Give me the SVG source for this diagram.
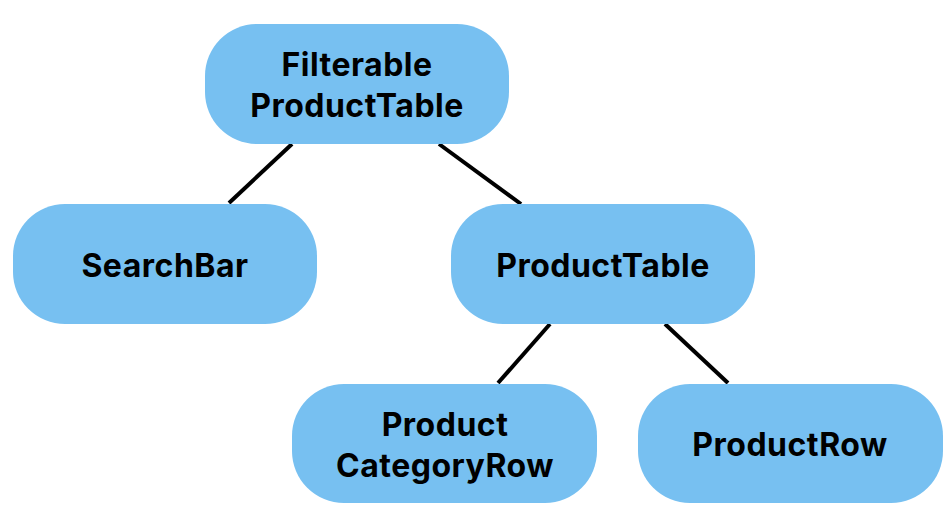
<svg xmlns="http://www.w3.org/2000/svg" width="952" height="532" viewBox="0 0 952 532">
<style>
.box{fill:#77C0F1;}
.lbl{font-family:Inter,"Liberation Sans",sans-serif;font-weight:700;font-size:32px;letter-spacing:0.5px;fill:#000;text-anchor:middle;}
.edge{stroke:#000;stroke-width:4;fill:none;}
</style>
<rect width="952" height="532" fill="#fff"/>
<g id="connectors">
<line class="edge" x1="292" y1="144" x2="229" y2="203"/>
<line class="edge" x1="439" y1="144" x2="521" y2="204"/>
<line class="edge" x1="550" y1="324" x2="498" y2="383"/>
<line class="edge" x1="665" y1="324" x2="728" y2="383"/>
</g>
<g id="FilterableProductTable">
<rect class="box" x="205" y="24" width="304" height="120" rx="52"/>
<text class="lbl" x="357" y="76">Filterable</text>
<text class="lbl" x="357" y="117">ProductTable</text>
</g>
<g id="SearchBar">
<rect class="box" x="13" y="204" width="304" height="120" rx="52"/>
<text class="lbl" x="165" y="277">SearchBar</text>
</g>
<g id="ProductTable">
<rect class="box" x="451" y="204" width="304" height="120" rx="52"/>
<text class="lbl" x="603" y="277">ProductTable</text>
</g>
<g id="ProductCategoryRow">
<rect class="box" x="292" y="384" width="305" height="119" rx="52"/>
<text class="lbl" x="445" y="436">Product</text>
<text class="lbl" x="445" y="477">CategoryRow</text>
</g>
<g id="ProductRow">
<rect class="box" x="638" y="384" width="305" height="119" rx="52"/>
<text class="lbl" x="790" y="456">ProductRow</text>
</g>
</svg>
